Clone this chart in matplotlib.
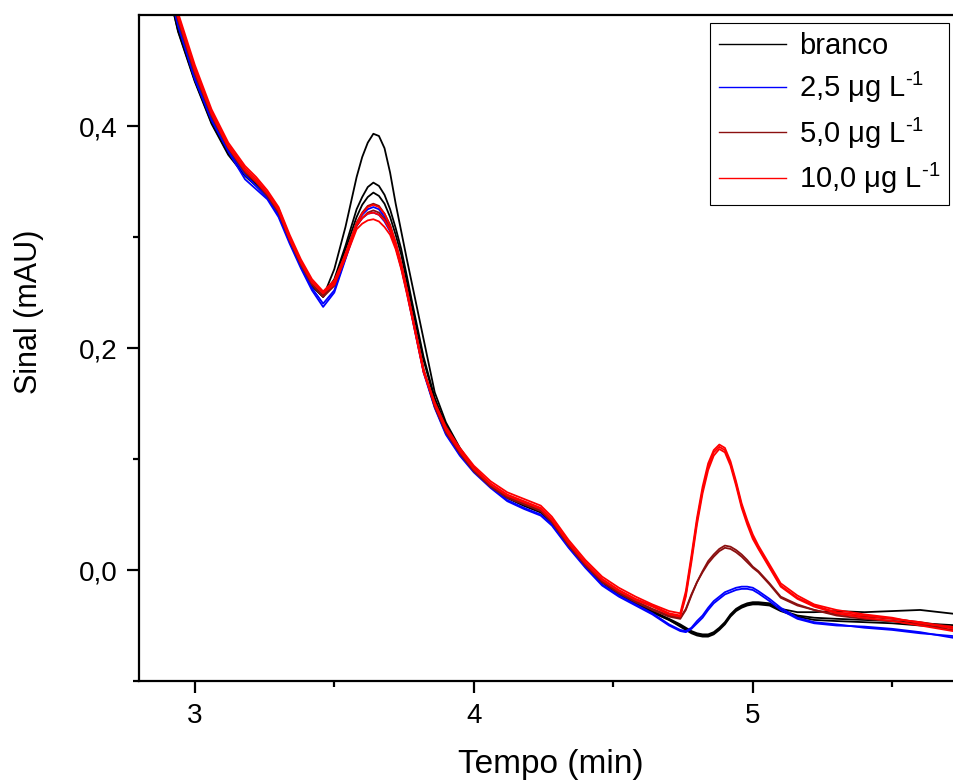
import matplotlib
matplotlib.use('Agg')
import matplotlib.pyplot as plt
from matplotlib.ticker import FixedLocator, FuncFormatter
from matplotlib.lines import Line2D

plt.rcParams['font.family'] = ['Liberation Sans', 'DejaVu Sans']
plt.rcParams['mathtext.fontset'] = 'custom'
plt.rcParams['mathtext.rm'] = 'Liberation Sans'
plt.rcParams['mathtext.it'] = 'Liberation Sans:italic'

# tempo (min)
t = [2.88, 2.94, 3.00, 3.06, 3.12, 3.18, 3.22, 3.26, 3.30, 3.34, 3.38, 3.42, 3.46, 3.50, 3.54,
     3.58, 3.60, 3.62, 3.64, 3.66, 3.68, 3.70, 3.72, 3.74, 3.76, 3.78,
     3.82, 3.86, 3.90, 3.95, 4.00, 4.06, 4.12, 4.18, 4.24, 4.28, 4.34, 4.40, 4.46, 4.52, 4.58, 4.64, 4.70, 4.74,
     4.76, 4.78, 4.80, 4.82, 4.84, 4.86, 4.88, 4.90, 4.92, 4.94, 4.96, 4.98, 5.00, 5.02, 5.06, 5.10,
     5.16, 5.22, 5.30, 5.40, 5.50, 5.60, 5.74]

# branco (3 replicatas)
branco_1 = [0.550, 0.485, 0.440, 0.402, 0.374, 0.355, 0.346, 0.336, 0.320, 0.296, 0.274, 0.256, 0.246, 0.271, 0.309,
            0.354, 0.372, 0.385, 0.393, 0.391, 0.380, 0.358, 0.330, 0.305, 0.280, 0.256,
            0.208, 0.160, 0.133, 0.110, 0.092, 0.076, 0.065, 0.058, 0.052, 0.042, 0.022, 0.004, -0.011, -0.022, -0.030, -0.038, -0.045, -0.050,
            -0.053, -0.056, -0.058, -0.059, -0.059, -0.057, -0.053, -0.048, -0.041, -0.036, -0.033, -0.031, -0.030, -0.030, -0.031, -0.036,
            -0.041, -0.043, -0.044, -0.045, -0.046, -0.048, -0.050]
branco_2 = [0.552, 0.488, 0.442, 0.404, 0.376, 0.357, 0.348, 0.337, 0.322, 0.297, 0.275, 0.257, 0.247, 0.262, 0.292,
            0.325, 0.336, 0.345, 0.349, 0.346, 0.338, 0.325, 0.308, 0.289, 0.265, 0.240,
            0.192, 0.155, 0.130, 0.109, 0.092, 0.077, 0.066, 0.059, 0.053, 0.043, 0.023, 0.005, -0.010, -0.021, -0.029, -0.037, -0.044, -0.049,
            -0.052, -0.055, -0.057, -0.058, -0.058, -0.056, -0.052, -0.047, -0.040, -0.035, -0.032, -0.030, -0.029, -0.029, -0.030, -0.035,
            -0.038, -0.038, -0.037, -0.038, -0.037, -0.036, -0.040]
branco_3 = [0.549, 0.486, 0.441, 0.403, 0.375, 0.356, 0.347, 0.336, 0.321, 0.296, 0.274, 0.256, 0.246, 0.260, 0.289,
            0.318, 0.329, 0.336, 0.340, 0.337, 0.330, 0.318, 0.302, 0.284, 0.260, 0.236,
            0.189, 0.153, 0.129, 0.108, 0.091, 0.076, 0.065, 0.058, 0.052, 0.042, 0.022, 0.004, -0.011, -0.022, -0.030, -0.038, -0.045, -0.051,
            -0.054, -0.057, -0.059, -0.060, -0.060, -0.058, -0.054, -0.049, -0.042, -0.037, -0.034, -0.032, -0.031, -0.031, -0.032, -0.037,
            -0.042, -0.045, -0.046, -0.047, -0.048, -0.050, -0.052]

# 2,5 ug/L
c25_1 = [0.550, 0.490, 0.442, 0.405, 0.377, 0.352, 0.343, 0.334, 0.318, 0.294, 0.272, 0.252, 0.237, 0.250, 0.280,
         0.310, 0.317, 0.321, 0.322, 0.320, 0.314, 0.305, 0.291, 0.272, 0.250, 0.226,
         0.178, 0.146, 0.122, 0.103, 0.088, 0.074, 0.062, 0.055, 0.049, 0.040, 0.020, 0.002, -0.014, -0.024, -0.032, -0.040, -0.050, -0.055,
         -0.056, -0.053, -0.048, -0.043, -0.036, -0.030, -0.026, -0.022, -0.020, -0.018, -0.017, -0.017, -0.018, -0.021, -0.028, -0.036,
         -0.044, -0.048, -0.050, -0.051, -0.053, -0.056, -0.062]
c25_2 = [0.552, 0.492, 0.444, 0.407, 0.379, 0.356, 0.346, 0.336, 0.320, 0.296, 0.274, 0.254, 0.240, 0.252, 0.281,
         0.312, 0.320, 0.325, 0.327, 0.325, 0.318, 0.308, 0.293, 0.274, 0.252, 0.228,
         0.179, 0.147, 0.123, 0.104, 0.089, 0.075, 0.063, 0.056, 0.050, 0.041, 0.021, 0.003, -0.013, -0.023, -0.031, -0.039, -0.049, -0.054,
         -0.055, -0.052, -0.046, -0.041, -0.034, -0.028, -0.024, -0.020, -0.018, -0.016, -0.015, -0.015, -0.016, -0.019, -0.026, -0.034,
         -0.043, -0.047, -0.049, -0.052, -0.054, -0.057, -0.060]

# 5,0 ug/L
c50_1 = [0.558, 0.497, 0.449, 0.410, 0.381, 0.360, 0.350, 0.338, 0.323, 0.298, 0.276, 0.258, 0.247, 0.258, 0.284,
         0.313, 0.322, 0.328, 0.330, 0.328, 0.321, 0.311, 0.295, 0.276, 0.253, 0.229,
         0.181, 0.148, 0.125, 0.106, 0.090, 0.076, 0.066, 0.060, 0.054, 0.044, 0.023, 0.005, -0.010, -0.020, -0.028, -0.035, -0.041, -0.043,
         -0.035, -0.022, -0.011, -0.002, 0.006, 0.012, 0.017, 0.020, 0.019, 0.016, 0.012, 0.007, 0.002, -0.002, -0.013, -0.025,
         -0.032, -0.036, -0.040, -0.042, -0.044, -0.047, -0.052]
c50_2 = [0.556, 0.495, 0.447, 0.409, 0.380, 0.358, 0.349, 0.337, 0.322, 0.297, 0.275, 0.257, 0.246, 0.256, 0.282,
         0.310, 0.317, 0.322, 0.324, 0.322, 0.316, 0.307, 0.291, 0.273, 0.251, 0.228,
         0.180, 0.147, 0.124, 0.105, 0.089, 0.075, 0.065, 0.059, 0.053, 0.043, 0.022, 0.004, -0.011, -0.021, -0.029, -0.036, -0.042, -0.044,
         -0.036, -0.023, -0.011, -0.001, 0.008, 0.014, 0.019, 0.022, 0.021, 0.018, 0.014, 0.009, 0.003, -0.001, -0.012, -0.024,
         -0.031, -0.036, -0.041, -0.044, -0.046, -0.049, -0.055]

# 10,0 ug/L
c100_1 = [0.560, 0.500, 0.452, 0.413, 0.383, 0.362, 0.352, 0.340, 0.326, 0.300, 0.278, 0.260, 0.249, 0.259, 0.285,
          0.312, 0.321, 0.327, 0.329, 0.327, 0.321, 0.310, 0.295, 0.276, 0.253, 0.228,
          0.180, 0.150, 0.127, 0.108, 0.092, 0.078, 0.068, 0.062, 0.056, 0.046, 0.025, 0.007, -0.008, -0.018, -0.026, -0.032, -0.039, -0.041,
          -0.022, 0.010, 0.044, 0.072, 0.093, 0.106, 0.111, 0.108, 0.096, 0.078, 0.058, 0.043, 0.030, 0.020, 0.003, -0.014,
          -0.025, -0.032, -0.038, -0.041, -0.044, -0.047, -0.054]
c100_2 = [0.562, 0.502, 0.455, 0.415, 0.385, 0.364, 0.354, 0.342, 0.327, 0.302, 0.280, 0.262, 0.251, 0.261, 0.284,
          0.311, 0.317, 0.321, 0.322, 0.320, 0.315, 0.306, 0.292, 0.274, 0.251, 0.227,
          0.179, 0.151, 0.129, 0.110, 0.094, 0.080, 0.070, 0.064, 0.058, 0.048, 0.027, 0.009, -0.006, -0.016, -0.024, -0.031, -0.037, -0.039,
          -0.019, 0.013, 0.047, 0.075, 0.096, 0.108, 0.113, 0.110, 0.098, 0.080, 0.060, 0.045, 0.032, 0.022, 0.005, -0.012,
          -0.023, -0.031, -0.036, -0.040, -0.043, -0.048, -0.052]
c100_3 = [0.558, 0.498, 0.450, 0.411, 0.381, 0.360, 0.350, 0.339, 0.324, 0.298, 0.277, 0.259, 0.250, 0.257, 0.281,
          0.307, 0.312, 0.315, 0.316, 0.314, 0.309, 0.302, 0.289, 0.271, 0.249, 0.226,
          0.178, 0.149, 0.126, 0.107, 0.091, 0.077, 0.067, 0.061, 0.055, 0.045, 0.024, 0.006, -0.009, -0.019, -0.027, -0.033, -0.040, -0.042,
          -0.024, 0.007, 0.041, 0.069, 0.090, 0.103, 0.109, 0.106, 0.094, 0.076, 0.056, 0.041, 0.028, 0.019, 0.002, -0.015,
          -0.026, -0.033, -0.039, -0.043, -0.046, -0.050, -0.056]

labels = ['branco', r'2,5 μg L$^{\text{-1}}$', r'5,0 μg L$^{\text{-1}}$', r'10,0 μg L$^{\text{-1}}$']
colors = ['#000000', '#0000ff', '#8b1010', '#ff0000']
groups = [[branco_1, branco_2, branco_3], [c25_1, c25_2],
          [c50_1, c50_2], [c100_1, c100_2, c100_3]]

fig = plt.figure(figsize=(9.54, 7.84), dpi=100)
ax = fig.add_axes([139 / 954, 1 - 681 / 784, (960 - 139) / 954, (681 - 15) / 784])

for reps, col in zip(groups, colors):
    for y in reps:
        ax.plot(t, y, color=col, lw=1.3)

ax.set_xlim(2.8, 5.7427)
ax.set_ylim(-0.1, 0.5)

ax.xaxis.set_major_locator(FixedLocator([3, 4, 5]))
ax.xaxis.set_minor_locator(FixedLocator([3.5, 4.5, 5.5]))
ax.yaxis.set_major_locator(FixedLocator([0.0, 0.2, 0.4]))
ax.yaxis.set_minor_locator(FixedLocator([-0.1, 0.1, 0.3]))
ax.yaxis.set_major_formatter(FuncFormatter(lambda v, p: f'{v:.1f}'.replace('.', ',')))
ax.xaxis.set_major_formatter(FuncFormatter(lambda v, p: f'{v:g}'))

for s in ax.spines.values():
    s.set_linewidth(1.6)
ax.tick_params(which='major', direction='out', length=8.5, width=1.6,
               labelsize=20, pad=7)
ax.tick_params(which='minor', direction='out', length=4.5, width=1.6)

ax.set_xlabel('Tempo (min)', fontsize=24)
ax.set_ylabel('Sinal (mAU)', fontsize=22)
ax.xaxis.label.set_va('center')
ax.yaxis.label.set_va('center')
ax.xaxis.set_label_coords(0.502, -0.126)
ax.yaxis.set_label_coords(-0.134, 0.555)

handles = [Line2D([], [], color=c, lw=1.0) for c in colors]
leg = ax.legend(handles, labels, loc='upper left',
                bbox_to_anchor=(710 / 954, 1 - 23 / 784),
                bbox_transform=fig.transFigure, fontsize=21,
                frameon=True, fancybox=False, framealpha=1,
                edgecolor='black', borderaxespad=0, borderpad=0.3,
                labelspacing=0.35, handlelength=2.3, handletextpad=0.45)
leg.get_frame().set_linewidth(0.8)

fig.savefig('out.png', dpi=100)
